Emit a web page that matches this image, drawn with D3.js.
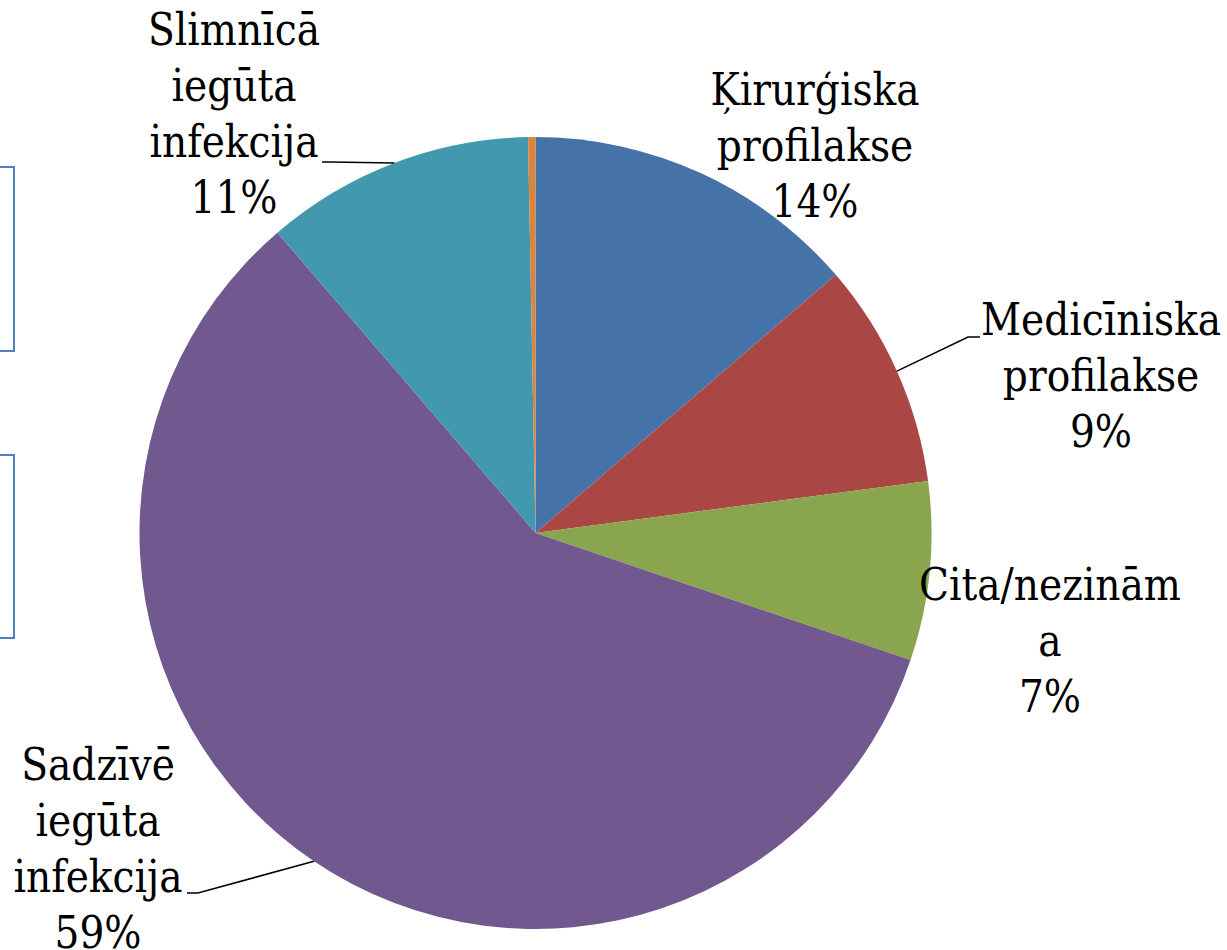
<!DOCTYPE html>
<html>
<head>
<meta charset="utf-8">
<script src="https://cdn.jsdelivr.net/npm/d3@7"></script>
<style>
  body { margin: 0; background: #fff; }
</style>
</head>
<body>
<svg id="chart" width="1227" height="950"></svg>
<script>
// data (share of total, %)
var categories = ["Ķirurģiska profilakse", "Medicīniska profilakse", "Cita/nezināma",
                  "Sadzīvē iegūta infekcija", "Slimnīcā iegūta infekcija", "Nav norādīts"];
var values = [13.7, 9.2, 7.3, 58.5, 11.0, 0.3];
var colors = ["#4572A7", "#AA4643", "#89A54E", "#71588F", "#4198AF", "#DB843D"];
// how the label text wraps in the original
var labelLines = [
  ["Ķirurģiska", "profilakse"],
  ["Medicīniska", "profilakse"],
  ["Cita/nezinām", "a"],
  ["Sadzīvē", "iegūta", "infekcija"],
  ["Slimnīcā", "iegūta", "infekcija"],
  null
];

// layout: label centre x, first baseline y, and leader elbow / end (null = no leader)
var labelLayout = [
  {x: 815, y: 105, leader: null},
  {x: 1101, y: 335, leader: [[968, 337], [980, 337]]},
  {x: 1050, y: 600, leader: null},
  {x: 98, y: 780, leader: [[198, 893], [187, 893]]},
  {x: 234, y: 45, leader: [[330, 162], [322, 162]]},
  null
];

var cx = 535.5, cy = 533, radius = 396, lineH = 56;
// only a wide serif is available, so narrow it to the original's width
var fontSize = 44, squeeze = 0.89;

var svg = d3.select("#chart");

// cut-off text boxes at the left edge
[[167, 351], [455, 638]].forEach(function (b) {
  svg.append("rect")
    .attr("x", -100).attr("y", b[0])
    .attr("width", 114).attr("height", b[1] - b[0])
    .attr("fill", "none")
    .attr("stroke", "#4F81BD")
    .attr("stroke-width", 2);
});

var pie = d3.pie().sort(null).value(function (d) { return d; });
var arcs = pie(values);

var arc = d3.arc().innerRadius(0).outerRadius(radius);
var edge = d3.arc().innerRadius(radius).outerRadius(radius);

var g = svg.append("g").attr("transform", "translate(" + cx + "," + cy + ")");

g.selectAll("path.slice")
  .data(arcs)
  .enter().append("path")
  .attr("class", "slice")
  .attr("d", arc)
  .attr("fill", function (d, i) { return colors[i]; });

// leader lines
arcs.forEach(function (d, i) {
  var lay = labelLayout[i];
  if (!lay || !lay.leader) return;
  var p = edge.centroid(d);
  var pts = [[cx + p[0], cy + p[1]]].concat(lay.leader);
  svg.append("path")
    .attr("d", d3.line()(pts))
    .attr("fill", "none")
    .attr("stroke", "#000")
    .attr("stroke-width", 1.5);
});

// labels
arcs.forEach(function (d, i) {
  var lay = labelLayout[i];
  if (!lay || !labelLines[i]) return;
  var lines = labelLines[i].concat([Math.round(values[i]) + "%"]);
  var t = svg.append("text")
    .attr("transform", "translate(" + lay.x + ",0) scale(" + squeeze + ",1)")
    .attr("text-anchor", "middle")
    .attr("font-family", "'DejaVu Serif', serif")
    .attr("font-size", fontSize)
    .attr("fill", "#000");
  lines.forEach(function (s, k) {
    t.append("tspan")
      .attr("x", 0)
      .attr("y", lay.y + k * lineH)
      .text(s);
  });
});
</script>
</body>
</html>
